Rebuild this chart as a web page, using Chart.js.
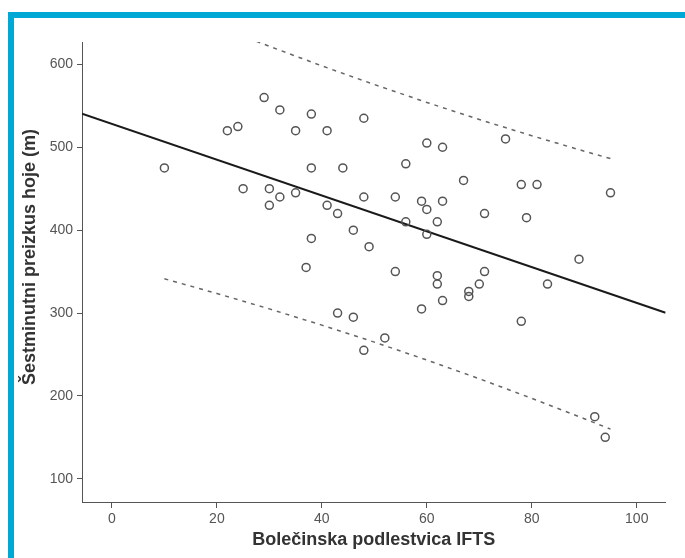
<!DOCTYPE html>
<html>
<head>
<meta charset="utf-8">
<script src="https://cdn.jsdelivr.net/npm/chart.js@4"></script>
<style>
html, body { margin: 0; padding: 0; background: #fff; }
#frame { position: absolute; left: 8px; top: 12px; right: 0; bottom: 0; border-top: 6px solid #00a8d6; border-left: 6px solid #00a8d6; }
#wrap { position: absolute; left: 0; top: 0; width: 685px; height: 558px; }
</style>
</head>
<body>
<div id="frame"></div>
<div id="wrap"><canvas id="myChart" width="685" height="558"></canvas></div>
<script>
// Podatki (odčitani s slike)
const ifts = [29, 32, 38, 48, 22, 24, 35, 41, 10, 38, 44, 25, 30, 32, 35, 48, 30, 41, 43, 46, 38, 49, 37,
    60, 63, 75, 56, 67, 78, 81, 95, 54, 59, 63, 60, 71, 79, 56, 62, 60, 89,
    54, 71, 62, 62, 70, 83, 68, 68, 63, 59, 78, 52, 92, 94, 43, 46, 48];
const hoja = [560, 545, 540, 535, 520, 525, 520, 520, 475, 475, 475, 450, 450, 440, 445, 440, 430, 430, 420, 400, 390, 380, 355,
    505, 500, 510, 480, 460, 455, 455, 445, 440, 435, 435, 425, 420, 415, 410, 410, 395, 365,
    350, 350, 345, 335, 335, 335, 326, 320, 315, 305, 290, 270, 175, 150, 300, 295, 255];

// regresijska premica
const fitX = [-5.7, 105.5];
const fitY = [540.5, 300.4];

// meje intervala napovedi
const bandX = [10, 20, 30, 40, 50, 60, 70, 80, 90, 95];
const upperY = [671.9, 646.4, 621.8, 598.2, 575.7, 554.1, 533.5, 513.9, 495.3, 486.3];
const lowerY = [341.3, 323.6, 305.0, 285.4, 264.9, 243.3, 220.7, 197.1, 172.5, 159.9];

const xTicks = [0, 20, 40, 60, 80, 100];
const yTicks = [100, 200, 300, 400, 500, 600];

function toPoints(xs, ys) {
    return xs.map(function (x, i) {
        return { x: x, y: ys[i] };
    });
}

const tickFont = { family: 'Liberation Sans, Arial, sans-serif', size: 14 };
const titleFont = { family: 'Liberation Sans, Arial, sans-serif', size: 18, weight: 'bold' };

new Chart(document.getElementById('myChart'), {
    type: 'scatter',
    data: {
        datasets: [{
            data: toPoints(ifts, hoja),
            pointStyle: 'circle',
            pointRadius: 4,
            borderColor: '#555',
            borderWidth: 1.5,
            backgroundColor: 'rgba(0,0,0,0)'
        }, {
            data: toPoints(fitX, fitY),
            showLine: true,
            borderColor: '#1a1a1a',
            borderWidth: 2,
            pointRadius: 0
        }, {
            data: toPoints(bandX, upperY),
            showLine: true,
            borderColor: '#666',
            borderWidth: 1.5,
            borderDash: [4, 5],
            pointRadius: 0
        }, {
            data: toPoints(bandX, lowerY),
            showLine: true,
            borderColor: '#666',
            borderWidth: 1.5,
            borderDash: [4, 5],
            pointRadius: 0
        }]
    },
    options: {
        responsive: false,
        animation: false,
        layout: { padding: { top: 42, right: 19.4, left: 0, bottom: 0 } },
        plugins: {
            legend: { display: false },
            tooltip: { enabled: false }
        },
        scales: {
            x: {
                type: 'linear',
                min: -5.7,
                max: 105.5,
                afterBuildTicks: function (scale) {
                    scale.ticks = xTicks.map(function (v) { return { value: v }; });
                },
                afterFit: function (scale) { scale.height = 56; },
                grid: { drawOnChartArea: false, drawTicks: true, tickLength: 6, color: '#555', lineWidth: 1 },
                border: { display: true, color: '#555', width: 1 },
                ticks: { color: '#555', font: tickFont, padding: 3, maxRotation: 0 },
                title: {
                    display: true,
                    text: 'Bolečinska podlestvica IFTS',
                    color: '#333',
                    font: titleFont,
                    padding: { top: 0, bottom: 7 }
                }
            },
            y: {
                type: 'linear',
                min: 72,
                max: 627,
                afterBuildTicks: function (scale) {
                    scale.ticks = yTicks.map(function (v) { return { value: v }; });
                },
                afterFit: function (scale) { scale.width = 82; },
                grid: { drawOnChartArea: false, drawTicks: true, tickLength: 5, color: '#555', lineWidth: 1 },
                border: { display: true, color: '#555', width: 1 },
                ticks: { color: '#555', font: tickFont, padding: 4 },
                title: {
                    display: true,
                    // presledki spredaj premaknejo napis nekoliko navzgor
                    text: '      Šestminutni preizkus hoje (m)',
                    color: '#333',
                    font: titleFont,
                    padding: { top: 19, bottom: 0 }
                }
            }
        }
    }
});
</script>
</body>
</html>
